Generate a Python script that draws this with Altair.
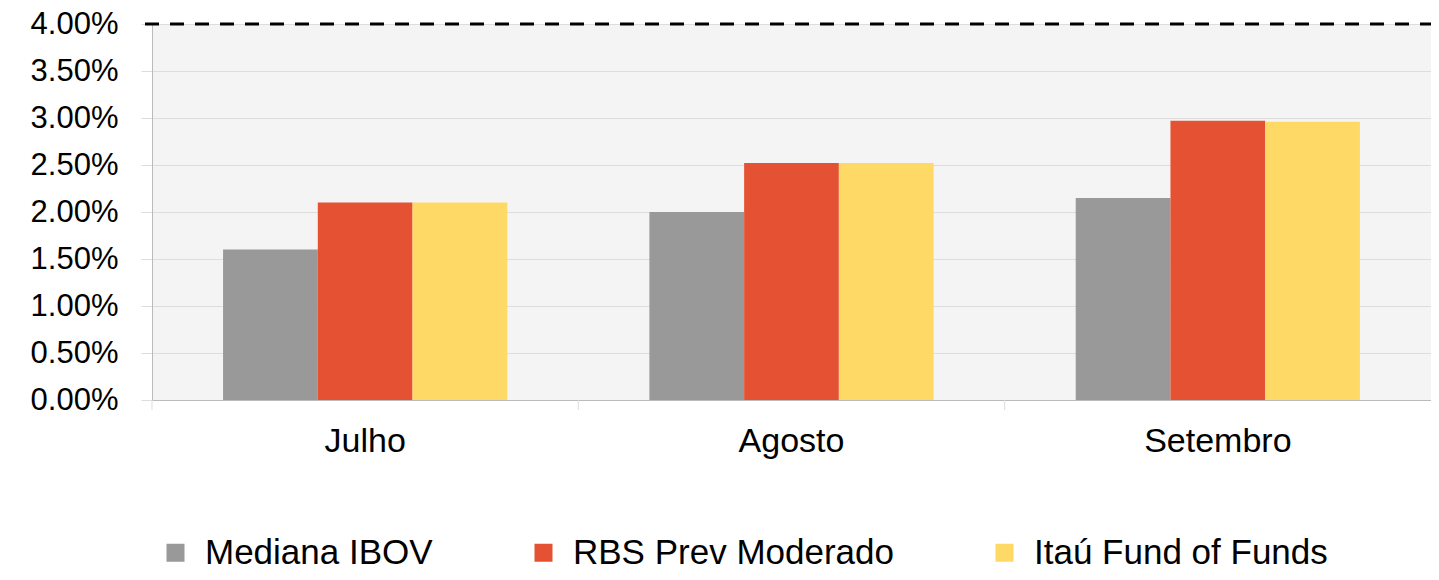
import altair as alt
import pandas as pd

months = ["Julho", "Agosto", "Setembro"]
series = ["Mediana IBOV", "RBS Prev Moderado", "Itaú Fund of Funds"]
mediana_ibov = [0.0160, 0.0200, 0.0215]
rbs_prev = [0.0210, 0.0252, 0.0297]
itau_fof = [0.0210, 0.0252, 0.0296]
colors = ["#999999", "#E55233", "#FFD966"]
y_ticks = [0.0, 0.005, 0.01, 0.015, 0.02, 0.025, 0.03, 0.035, 0.04]
target = [0.04]

rows = []
for i, m in enumerate(months):
    for s, vals in zip(series, [mediana_ibov, rbs_prev, itau_fof]):
        rows.append({"month": m, "series": s, "value": vals[i]})
df = pd.DataFrame(rows)
df_months = pd.DataFrame({"month": months})
df_target = pd.DataFrame({"y": target})

W, H = 1279, 376
FONT = "Liberation Sans"

x_scale = alt.Scale(domain=months, paddingInner=0, paddingOuter=0)
y_scale = alt.Scale(domain=[0, 0.04], nice=False)

bars = alt.Chart(df).mark_bar().encode(
    x=alt.X(
        "month:N", scale=x_scale, sort=months,
        axis=alt.Axis(title=None, labelAngle=0, ticks=False, labelPadding=24,
                      labelFontSize=34, labelFont=FONT, labelColor="#000000",
                      domainColor="#bbbbbb", grid=False),
    ),
    xOffset=alt.XOffset("series:N", sort=series,
                        scale=alt.Scale(domain=series, paddingInner=0, paddingOuter=0.75)),
    y=alt.Y(
        "value:Q", scale=y_scale,
        axis=alt.Axis(title=None, format=".2%", values=y_ticks, labelFontSize=31,
                      labelFont=FONT, labelColor="#000000", tickSize=11, labelPadding=23,
                      tickColor="#dddddd", gridColor="#dddddd", domainColor="#bbbbbb"),
    ),
    color=alt.Color(
        "series:N", sort=series, scale=alt.Scale(domain=series, range=colors),
        legend=alt.Legend(title=None, orient="none", legendX=6, legendY=511,
                          direction="horizontal", symbolType="square", symbolSize=324,
                          symbolStrokeWidth=0, labelFontSize=35, labelFont=FONT,
                          labelColor="#000000", labelOffset=12, columnPadding=93,
                          labelLimit=0),
    ),
)

ticks = alt.Chart(df_months).mark_rule(color="#dddddd", strokeWidth=1).encode(
    x=alt.X("month:N", scale=x_scale, sort=months, bandPosition=0),
    y=alt.value(H),
    y2=alt.value(H + 10),
)

dashed = alt.Chart(df_target).mark_rule(color="black", strokeWidth=3, strokeDash=[14, 11]).encode(
    y=alt.Y("y:Q", scale=y_scale),
    x=alt.value(-7),
    x2=alt.value(W),
)

chart = alt.layer(bars, ticks, dashed).properties(
    width=W, height=H,
    padding={"left": 144, "top": 16, "right": 0, "bottom": 172},
    autosize=alt.AutoSizeParams(type="none"),
).configure_view(fill="#F4F4F4", strokeWidth=0)

chart.save("out.html", embed_options={"renderer": "svg", "actions": False})
